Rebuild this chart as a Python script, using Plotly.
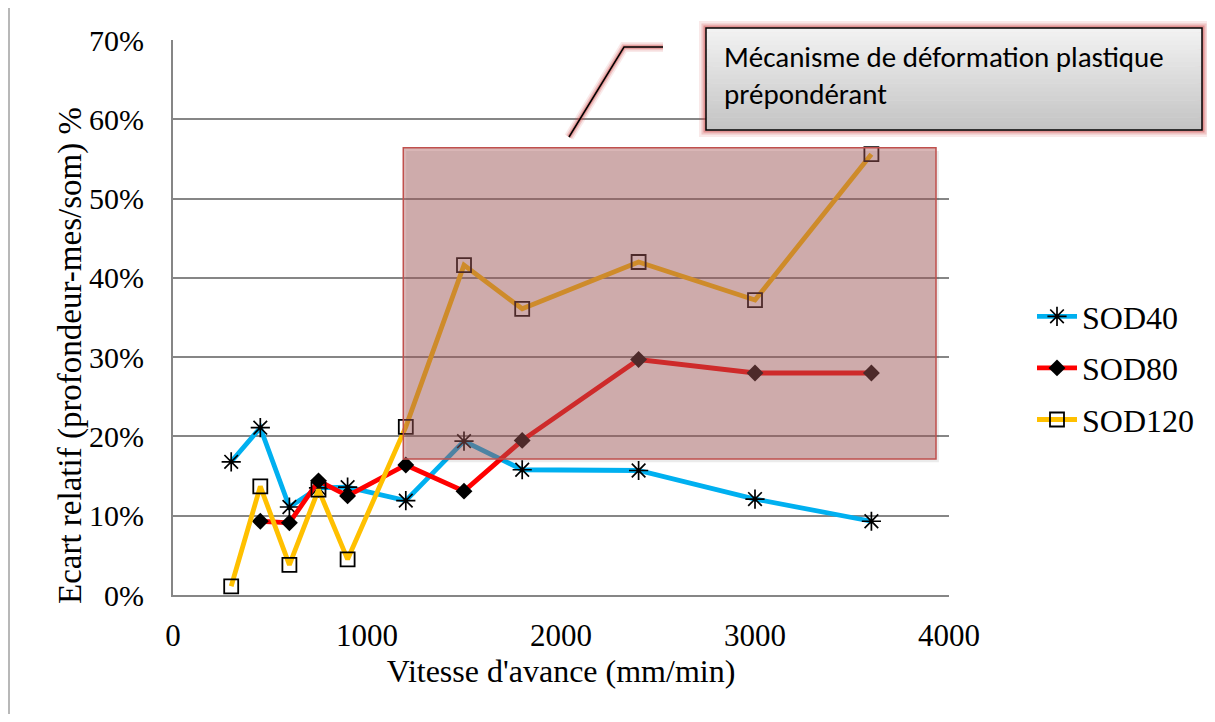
import plotly.graph_objects as go

x_sod40 = [300, 450, 600, 750, 900, 1200, 1500, 1800, 2400, 3000, 3600]
y_sod40 = [16.8, 21.1, 11.1, 13.5, 13.6, 11.9, 19.4, 15.8, 15.7, 12.1, 9.3]

x_sod80 = [450, 600, 750, 900, 1200, 1500, 1800, 2400, 3000, 3600]
y_sod80 = [9.3, 9.1, 14.4, 12.5, 16.4, 13.1, 19.5, 29.7, 28.0, 28.0]

x_sod120 = [300, 450, 600, 750, 900, 1200, 1500, 1800, 2400, 3000, 3600]
y_sod120 = [1.1, 13.7, 3.8, 13.3, 4.5, 21.2, 41.6, 36.1, 42.0, 37.2, 55.6]

series_names = ["SOD40", "SOD80", "SOD120"]
x_ticks = [0, 1000, 2000, 3000, 4000]
y_ticks = [0, 10, 20, 30, 40, 50, 60, 70]
y_tick_labels = [f"{v}%" for v in y_ticks]

zone_x = [1187, 3933]
zone_y = [17.15, 56.4]

OFF = 8  # page body margin
W, H = 1215 - 2 * OFF, 722 - 2 * OFF
L, R, T, B = 173, 949, 40, 595  # plot area in page pixels

def px(xp):
    return (xp - L) / (R - L)

def py(yp):
    return (B - yp) / (B - T)

serif = "Liberation Serif"
sans = "Carlito, Liberation Sans, Arial, sans-serif"

fig = go.Figure()
fig.add_trace(go.Scatter(
    x=x_sod40, y=y_sod40, name=series_names[0], mode="lines+markers",
    line=dict(color="#00b0f0", width=4.8), legendgroup="a",
    marker=dict(symbol="asterisk-open", size=16, color="black",
                line=dict(color="black", width=1.7))))
fig.add_trace(go.Scatter(
    x=x_sod80, y=y_sod80, name=series_names[1], mode="lines+markers",
    line=dict(color="#ff0000", width=4.8), legendgroup="b",
    marker=dict(symbol="diamond", size=13, color="black",
                line=dict(color="black", width=0))))
fig.add_trace(go.Scatter(
    x=x_sod120, y=y_sod120, name=series_names[2], mode="lines+markers",
    line=dict(color="#ffc000", width=4.8), legendgroup="c",
    marker=dict(symbol="square-open", size=14, color="black",
                line=dict(color="black", width=1.8))))

shapes = []
# shaded zone shadow
shapes.append(dict(type="rect", xref="x", yref="y",
                   x0=zone_x[0] + 15, x1=zone_x[1] + 15, y0=zone_y[0] - 0.4, y1=zone_y[1] - 0.4,
                   fillcolor="rgba(0,0,0,0.08)", line=dict(width=0), layer="above"))
shapes.append(dict(type="rect", xref="x", yref="y",
                   x0=zone_x[0], x1=zone_x[1], y0=zone_y[0], y1=zone_y[1],
                   fillcolor="rgba(171,93,93,0.45)",
                   line=dict(color="#c0504d", width=1.5), layer="above"))

# outer frame (left and top edges)
shapes.append(dict(type="line", xref="paper", yref="paper",
                   x0=px(9), x1=px(9), y0=py(7), y1=py(740),
                   line=dict(color="#a0a0a0", width=1.5)))
shapes.append(dict(type="line", xref="paper", yref="paper",
                   x0=px(9), x1=px(1230), y0=py(7), y1=py(7),
                   line=dict(color="#a0a0a0", width=1.5)))

# callout box glow
bx0, bx1, by0, by1 = 706, 1202, 28, 130
for w, a in [(14, 0.12), (9, 0.22), (5, 0.4)]:
    shapes.append(dict(type="rect", xref="paper", yref="paper",
                       x0=px(bx0), x1=px(bx1), y0=py(by1), y1=py(by0),
                       line=dict(color=f"rgba(205,70,70,{a})", width=w),
                       fillcolor="rgba(0,0,0,0)", layer="above"))
# gradient fill
nb = 24
for i in range(nb):
    g = int(242 - (242 - 196) * i / (nb - 1))
    ya = by0 + (by1 - by0) * i / nb
    yb = by0 + (by1 - by0) * (i + 1) / nb + 0.5
    shapes.append(dict(type="rect", xref="paper", yref="paper",
                       x0=px(bx0), x1=px(bx1), y0=py(yb), y1=py(ya),
                       fillcolor=f"rgb({g},{g},{g})", line=dict(width=0), layer="above"))
shapes.append(dict(type="rect", xref="paper", yref="paper",
                   x0=px(bx0), x1=px(bx1), y0=py(by1), y1=py(by0),
                   line=dict(color="black", width=1.5),
                   fillcolor="rgba(0,0,0,0)", layer="above"))

# callout leader line with glow
path = f"M {px(569)} {py(137)} L {px(624)} {py(47)} L {px(663)} {py(47)}"
for w, a in [(10, 0.12), (6.5, 0.22), (3.5, 0.4)]:
    shapes.append(dict(type="path", xref="paper", yref="paper", path=path,
                       line=dict(color=f"rgba(205,70,70,{a})", width=w), layer="above"))
shapes.append(dict(type="path", xref="paper", yref="paper", path=path,
                   line=dict(color="black", width=1.5), layer="above"))

annotations = [
    dict(xref="paper", yref="paper", x=px(722), y=py(57), xanchor="left", yanchor="middle",
         text="Mécanisme de déformation plastique", showarrow=False,
         font=dict(family=sans, size=29, color="black")),
    dict(xref="paper", yref="paper", x=px(722), y=py(94), xanchor="left", yanchor="middle",
         text="prépondérant", showarrow=False,
         font=dict(family=sans, size=29, color="black")),
    dict(xref="paper", yref="paper", x=px(70), y=py(356), xanchor="center", yanchor="middle",
         text="Ecart relatif (profondeur-mes/som) %", showarrow=False, textangle=-90,
         font=dict(family=serif, size=33, color="black")),
]

fig.update_layout(
    width=W, height=H,
    margin=dict(l=L - OFF, r=W - (R - OFF), t=T - OFF, b=H - (B - OFF), autoexpand=False),
    paper_bgcolor="white", plot_bgcolor="white",
    shapes=shapes, annotations=annotations,
    font=dict(family=serif, size=31, color="black"),
    legend=dict(x=px(1032), y=py(368), xanchor="left", yanchor="middle",
                font=dict(family=serif, size=32, color="black"),
                tracegroupgap=7, bgcolor="rgba(0,0,0,0)", itemwidth=40),
    showlegend=True,
)
fig.update_xaxes(range=[0, 4000], tickvals=x_ticks, ticktext=[str(v) for v in x_ticks],
                 showgrid=False, zeroline=False, showline=True, linecolor="#868686", linewidth=2,
                 ticks="", ticklabelstandoff=12,
                 tickfont=dict(family=serif, size=31),
                 title=dict(text="Vitesse d'avance (mm/min)", standoff=4,
                            font=dict(family=serif, size=32)))
fig.update_yaxes(range=[0, 70], tickvals=y_ticks, ticktext=y_tick_labels,
                 showgrid=True, gridcolor="#868686", gridwidth=1.5,
                 zeroline=False, showline=True, linecolor="#868686", linewidth=2,
                 ticks="", ticklabelstandoff=21,
                 tickfont=dict(family=serif, size=30))

fig.write_html("out.html")
